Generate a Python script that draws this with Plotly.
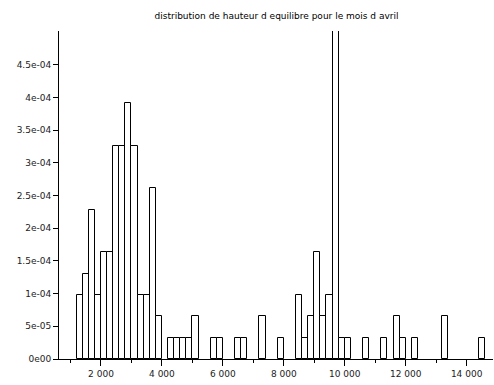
import plotly.graph_objects as go

# Histogram bins (left edge, bin width 200) and normalized heights (density)
bin_left = [1200, 1400, 1600, 1800, 2000, 2200, 2400, 2600, 2800, 3000,
            3200, 3400, 3600, 3800, 4200, 4400, 4600, 4800, 5000,
            5600, 5800, 6400, 6600, 7200, 7800,
            8400, 8600, 8800, 9000, 9200, 9400, 9600, 9800, 10000,
            10600, 11200, 11600, 11800, 12200, 13200, 14400]
density = [9.78e-05, 1.30e-04, 2.28e-04, 9.78e-05, 1.63e-04, 1.63e-04, 3.26e-04, 3.26e-04, 3.91e-04, 3.26e-04,
           9.78e-05, 9.78e-05, 2.61e-04, 6.52e-05, 3.26e-05, 3.26e-05, 3.26e-05, 3.26e-05, 6.52e-05,
           3.26e-05, 3.26e-05, 3.26e-05, 3.26e-05, 6.52e-05, 3.26e-05,
           9.78e-05, 3.26e-05, 6.52e-05, 1.63e-04, 6.52e-05, 9.78e-05, 9.10e-04, 3.26e-05, 3.26e-05,
           3.26e-05, 3.26e-05, 6.52e-05, 3.26e-05, 3.26e-05, 6.52e-05, 3.26e-05]
bin_width = 200

x_tickvals = [2000, 4000, 6000, 8000, 10000, 12000, 14000]
x_ticktext = ["2 000", "4 000", "6 000", "8 000", "10 000", "12 000", "14 000"]
x_minor = [1000, 3000, 5000, 7000, 9000, 11000, 13000]
y_tickvals = [0, 5e-05, 1e-04, 1.5e-04, 2e-04, 2.5e-04, 3e-04, 3.5e-04, 4e-04, 4.5e-04]
y_ticktext = ["0e00", "5e-05", "1e-04", "1.5e-04", "2e-04", "2.5e-04", "3e-04", "3.5e-04", "4e-04", "4.5e-04"]

title = "distribution de hauteur d equilibre pour le mois d avril"

fig = go.Figure()
fig.add_trace(go.Bar(
    x=[b + bin_width / 2 for b in bin_left],
    y=density,
    width=bin_width,
    marker=dict(color="white", line=dict(color="black", width=1)),
))

fig.update_layout(
    width=494, height=385,
    margin=dict(l=59, r=1, t=31, b=26),
    paper_bgcolor="white", plot_bgcolor="white",
    showlegend=False,
    bargap=0,
    font=dict(family="DejaVu Sans", size=9, color="#222222"),
    title=dict(text=title, x=276.5 / 494, xanchor="center", y=1 - 16 / 385, yanchor="middle",
               font=dict(family="DejaVu Sans", size=9, color="black")),
)
fig.update_xaxes(
    range=[622, 14865],
    showline=True, linecolor="black", linewidth=1,
    showgrid=False, zeroline=False,
    tickmode="array", tickvals=x_tickvals, ticktext=x_ticktext,
    ticks="outside", ticklen=6, tickcolor="black",
    minor=dict(tickvals=x_minor, ticks="outside", ticklen=3, tickcolor="black"),
)
fig.update_yaxes(
    range=[0, 5.015e-04],
    showline=True, linecolor="black", linewidth=1,
    showgrid=False, zeroline=False,
    tickmode="array", tickvals=y_tickvals, ticktext=y_ticktext,
    ticks="outside", ticklen=5, tickcolor="black",
)

fig.write_html("out.html")
